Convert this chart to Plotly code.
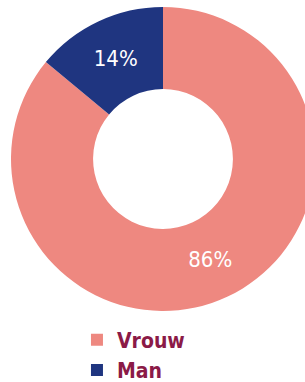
import plotly.graph_objects as go

labels = ["Vrouw", "Man"]
values = [86, 14]
colors = ["#EE8880", "#1F3580"]

FONT = "Liberation Sans Narrow, DejaVu Sans Condensed, Arial Narrow, sans-serif"

fig = go.Figure(
    go.Pie(
        labels=labels,
        values=values,
        hole=0.46,
        sort=False,
        direction="clockwise",
        rotation=0,
        marker=dict(colors=colors, line=dict(width=0)),
        texttemplate="%{percent:.0%}",
        textposition="inside",
        insidetextorientation="horizontal",
        textfont=dict(color="white", size=22, family=FONT),
        domain=dict(x=[0, 1], y=[0, 1]),
        showlegend=True,
    )
)

fig.update_layout(
    width=320,
    height=382,
    margin=dict(l=11, r=5, t=7, b=71, autoexpand=False),
    paper_bgcolor="white",
    plot_bgcolor="white",
    legend=dict(
        x=0.217, y=-0.028, xanchor="left", yanchor="top",
        font=dict(size=21, color="#8B1A47", family=FONT, weight="bold"),
        tracegroupgap=0, itemwidth=30,
    ),
)

fig.write_html(
    "out.html",
    config={"displayModeBar": False},
    post_script="document.body.style.margin='0';document.body.style.overflow='hidden';",
)
